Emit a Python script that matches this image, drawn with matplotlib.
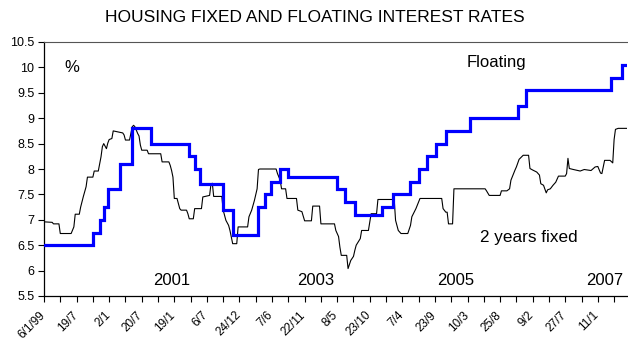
import matplotlib
matplotlib.use("Agg")
import matplotlib.pyplot as plt
from matplotlib.transforms import ScaledTranslation

plt.rcParams['font.family'] = ['Liberation Sans', 'DejaVu Sans']

# Floating mortgage rate: week index at which each new rate takes effect
floating_week = [0, 36, 41, 44, 47, 56, 65, 79, 107, 111, 115, 132, 139, 158, 163,
                 167, 174, 180, 216, 222, 229, 249, 257, 270, 276, 282, 289, 296,
                 314, 349, 355, 418, 426, 430]
floating_rate = [6.50, 6.75, 7.00, 7.25, 7.60, 8.10, 8.80, 8.50, 8.25, 8.00, 7.70,
                 7.20, 6.70, 7.25, 7.50, 7.75, 8.00, 7.85, 7.60, 7.35, 7.10, 7.25,
                 7.50, 7.75, 8.00, 8.25, 8.50, 8.75, 9.00, 9.25, 9.55, 9.80, 10.05,
                 10.05]

# Two-year fixed mortgage rate (weekly observations)
fixed_week = [0, 6, 7, 11, 12, 20, 22, 23, 26, 27, 29, 31, 32, 36, 37, 40, 42, 43,
              44, 45, 46, 47, 48, 50, 51, 58, 59, 60, 63, 65, 66, 67, 69, 70, 71,
              72, 76, 77, 86, 87, 92, 93, 94, 95, 96, 98, 100, 101, 105, 106, 107,
              110, 111, 116, 117, 122, 123, 124, 125, 131, 132, 134, 136, 137, 139,
              142, 143, 150, 151, 153, 155, 157, 158, 159, 171, 172, 174, 175, 178,
              179, 186, 187, 190, 192, 197, 198, 203, 204, 214, 215, 217, 218, 219,
              223, 224, 226, 228, 229, 230, 233, 234, 239, 240, 241, 245, 246, 258,
              259, 261, 263, 268, 270, 271, 274, 277, 293, 294, 296, 297, 298, 301,
              302, 325, 326, 328, 336, 337, 341, 343, 344, 347, 348, 350, 353, 357,
              358, 360, 363, 365, 366, 368, 370, 371, 373, 375, 377, 379, 384, 385,
              386, 387, 390, 395, 398, 403, 406, 408, 410, 411, 413, 417, 419, 420,
              421, 423, 430]
fixed_rate = [6.96, 6.95, 6.92, 6.92, 6.73, 6.73, 6.86, 7.11, 7.11, 7.25, 7.46, 7.65,
              7.84, 7.84, 7.96, 7.96, 8.24, 8.44, 8.50, 8.45, 8.40, 8.51, 8.58, 8.60,
              8.75, 8.71, 8.67, 8.57, 8.57, 8.83, 8.86, 8.83, 8.70, 8.65, 8.47, 8.37,
              8.37, 8.30, 8.30, 8.14, 8.14, 8.07, 7.97, 7.84, 7.42, 7.42, 7.22, 7.19,
              7.19, 7.12, 7.02, 7.02, 7.22, 7.22, 7.45, 7.48, 7.70, 7.72, 7.46, 7.46,
              7.19, 6.99, 6.89, 6.79, 6.53, 6.53, 6.86, 6.86, 7.06, 7.19, 7.38, 7.61,
              7.99, 8.00, 8.00, 7.91, 7.78, 7.61, 7.61, 7.42, 7.42, 7.19, 7.16, 6.98,
              6.98, 7.27, 7.27, 6.92, 6.92, 6.79, 6.67, 6.46, 6.30, 6.30, 6.04, 6.20,
              6.28, 6.40, 6.50, 6.63, 6.79, 6.79, 6.96, 7.12, 7.12, 7.40, 7.40, 6.99,
              6.79, 6.73, 6.73, 6.89, 7.06, 7.22, 7.42, 7.42, 7.22, 7.15, 7.15, 6.92,
              6.92, 7.61, 7.61, 7.57, 7.48, 7.48, 7.57, 7.57, 7.61, 7.78, 7.98, 8.04,
              8.19, 8.27, 8.27, 8.01, 7.98, 7.94, 7.88, 7.71, 7.68, 7.53, 7.59, 7.61,
              7.68, 7.74, 7.86, 7.86, 7.91, 8.21, 8.01, 7.99, 7.96, 7.99, 7.97, 8.04,
              8.05, 7.92, 7.91, 8.17, 8.17, 8.12, 8.58, 8.78, 8.80, 8.80]

# Date labels shown on every second tick (ticks are 12 weeks apart)
date_labels = ['6/1/99', '19/7', '2/1', '20/7', '19/1', '6/7', '24/12', '7/6',
               '22/11', '8/5', '23/10', '7/4', '23/9', '10/3', '25/8', '9/2',
               '27/7', '11/1']
tick_step_weeks = 12

# Year markers placed along the bottom of the plot
year_labels = ['2001', '2003', '2005', '2007']
year_weeks = [94, 200, 303, 413]

fig = plt.figure(figsize=(6.28, 3.38), dpi=100)
ax = fig.add_axes([44 / 628, 1 - 296 / 338, 583 / 628, 254 / 338])

ax.plot(fixed_week, fixed_rate, color='black', lw=0.8, zorder=2)
ax.step(floating_week, floating_rate, where='post', color='#0000ff', lw=2.3,
        solid_joinstyle='miter', zorder=3)

ax.set_xlim(0, 429.5)
ax.set_ylim(5.5, 10.5)

yt = [5.5 + 0.5 * i for i in range(11)]
ax.set_yticks(yt)
ax.set_yticklabels([('%g' % v) for v in yt], fontsize=9)

xt = list(range(0, 430, tick_step_weeks))
ax.set_xticks(xt)
xl = []
for i in range(len(xt)):
    xl.append(date_labels[i // 2] if i % 2 == 0 and i // 2 < len(date_labels) else '')
ax.set_xticklabels(xl, rotation=45, ha='right', rotation_mode='anchor', fontsize=8.5)

ax.tick_params(direction='out', length=4, width=0.8, colors='black', pad=3)
ax.tick_params(axis='x', pad=5.5)

# nudge the slanted date labels so their ends sit just left of each tick
shift = ScaledTranslation(-5 / 100, 0, fig.dpi_scale_trans)
for lab in ax.get_xticklabels():
    lab.set_transform(lab.get_transform() + shift)

for side in ('left', 'bottom'):
    ax.spines[side].set_color('black')
    ax.spines[side].set_linewidth(0.9)
ax.spines['top'].set_color('#555555')
ax.spines['top'].set_linewidth(0.8)
ax.spines['right'].set_visible(False)

fig.text(315 / 628, 1 - 18 / 338, 'HOUSING FIXED AND FLOATING INTEREST RATES',
         ha='center', va='center', fontsize=12.5)

ax.text(15, 10.0, '%', fontsize=12, ha='left', va='center')
ax.text(311, 10.1, 'Floating', fontsize=12, ha='left', va='center')
ax.text(321, 6.65, '2 years fixed', fontsize=12.3, ha='left', va='center')
for lab, wk in zip(year_labels, year_weeks):
    ax.text(wk, 5.8, lab, fontsize=12, ha='center', va='center')

fig.savefig('out.png', dpi=100)
